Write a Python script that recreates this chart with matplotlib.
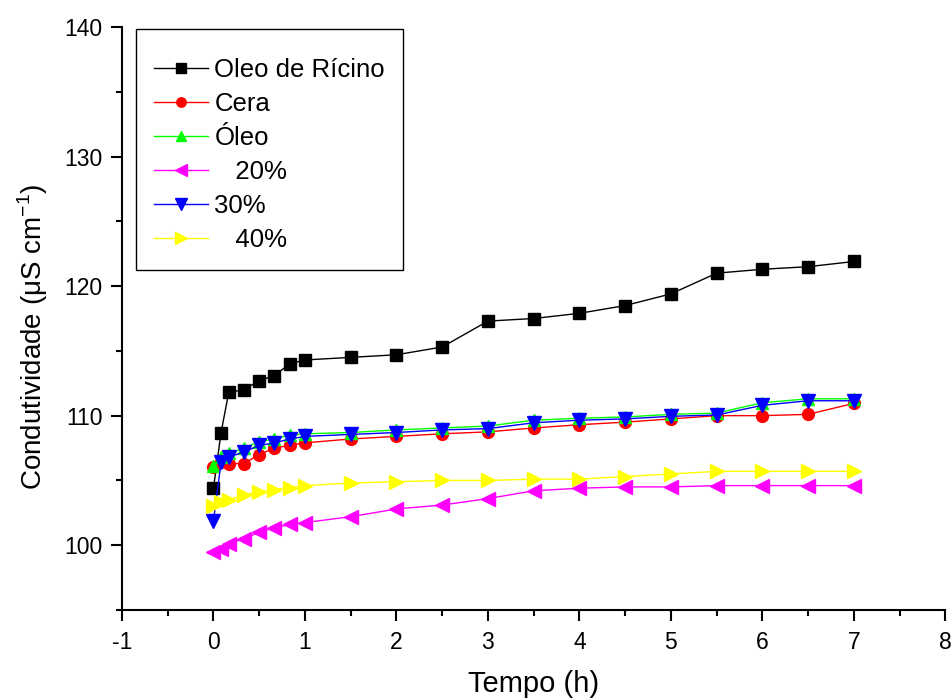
import matplotlib
matplotlib.use("Agg")
import matplotlib.pyplot as plt
from matplotlib.ticker import MultipleLocator

plt.rcParams['font.family'] = ['Liberation Sans', 'DejaVu Sans']
plt.rcParams['axes.unicode_minus'] = False

tempo = [0, 0.083, 0.167, 0.333, 0.5, 0.667, 0.833, 1, 1.5, 2, 2.5, 3, 3.5,
         4, 4.5, 5, 5.5, 6, 6.5, 7]

ricino = [104.4, 108.7, 111.8, 112.0, 112.7, 113.1, 114.0, 114.3, 114.5, 114.7,
          115.3, 117.3, 117.5, 117.9, 118.5, 119.4, 121.0, 121.3, 121.5, 121.9]
cera = [106.0, 106.4, 106.3, 106.3, 107.0, 107.5, 107.7, 107.9, 108.2, 108.4,
        108.6, 108.75, 109.05, 109.3, 109.5, 109.75, 110.0, 110.0, 110.1, 110.95]
oleo = [106.1, 106.8, 107.1, 107.5, 108.0, 108.2, 108.5, 108.6, 108.7, 108.9,
        109.05, 109.2, 109.65, 109.8, 109.9, 110.1, 110.2, 111.0, 111.3, 111.3]
p20 = [99.5, 99.7, 100.1, 100.5, 101.0, 101.35, 101.6, 101.75, 102.2, 102.8,
       103.1, 103.6, 104.2, 104.4, 104.5, 104.5, 104.6, 104.6, 104.6, 104.6]
p30 = [101.9, 106.4, 106.8, 107.2, 107.7, 107.9, 108.2, 108.4, 108.55, 108.7,
       108.9, 109.0, 109.45, 109.65, 109.75, 109.95, 110.05, 110.8, 111.15, 111.15]
p40 = [103.0, 103.3, 103.5, 103.9, 104.1, 104.3, 104.45, 104.6, 104.8, 104.9,
       105.0, 105.0, 105.1, 105.1, 105.3, 105.5, 105.7, 105.7, 105.7, 105.7]

fig = plt.figure(figsize=(9.53, 7), dpi=100)
ax = fig.add_axes([0.128, 0.1286, 0.864, 0.8328])

ax.plot(tempo, ricino, color='black', marker='s', markersize=8.5, linewidth=1, label='Oleo de Rícino')
ax.plot(tempo, cera, color='red', marker='o', markersize=8.5, linewidth=1, label='Cera')
ax.plot(tempo, oleo, color='#00ff00', marker='^', markersize=9, linewidth=1, label='Óleo')
ax.plot(tempo, p20, color='magenta', marker='<', markersize=10, linewidth=1, label='   20%')
ax.plot(tempo, p30, color='blue', marker='v', markersize=10, linewidth=1, label='30%')
ax.plot(tempo, p40, color='yellow', marker='>', markersize=10, linewidth=1, label='   40%')

ax.set_xlim(-1, 8)
ax.set_ylim(95, 140)
ax.set_yticks([100, 110, 120, 130, 140])
ax.xaxis.set_major_locator(MultipleLocator(1))
ax.xaxis.set_minor_locator(MultipleLocator(0.5))
ax.yaxis.set_minor_locator(MultipleLocator(5))

ax.spines['top'].set_visible(False)
ax.spines['right'].set_visible(False)
ax.spines['left'].set_linewidth(1.5)
ax.spines['bottom'].set_linewidth(1.5)
ax.tick_params(which='major', direction='out', length=8, width=1.5, labelsize=16.5)
ax.tick_params(which='minor', direction='out', length=4, width=1.5)
ax.tick_params(axis='x', which='major', pad=7)
ax.tick_params(axis='y', which='major', pad=6)

ax.set_xlabel('Tempo (h)', fontsize=21, labelpad=12)
ax.set_ylabel('Condutividade ($\\mathregular{\\mu}$S cm$^{\\mathregular{-1}}$)', fontsize=20)
ax.yaxis.set_label_coords(-0.087, 0.468)

leg = ax.legend(loc='upper left', bbox_to_anchor=(0.017, 0.996), fontsize=18.5,
                fancybox=False, framealpha=1, edgecolor='black',
                handlelength=2.1, labelspacing=0.39, borderpad=0.7, handletextpad=0.25,
                borderaxespad=0, markerscale=0.8, title=' ', title_fontsize=1)
leg.get_frame().set_linewidth(1)

fig.savefig('out.png', dpi=100)
